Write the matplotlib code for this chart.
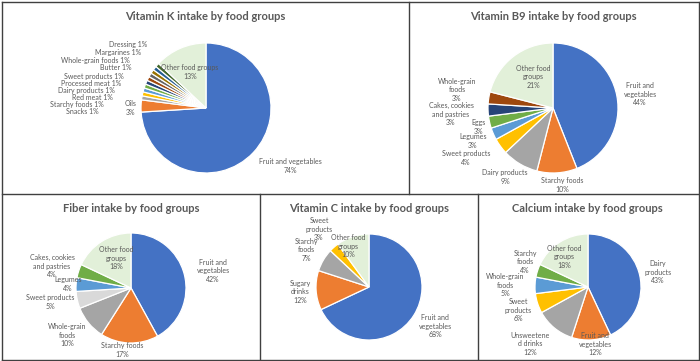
import matplotlib
matplotlib.use("Agg")
import matplotlib.pyplot as plt
from matplotlib.lines import Line2D

# ---- data ----
vitk_names = ["Fruit and vegetables", "Oils", "Snacks", "Starchy foods", "Red meat",
              "Dairy products", "Processed meat", "Sweet products", "Butter",
              "Whole-grain foods", "Margarines", "Dressing", "Other food groups"]
vitk_values = [74, 3, 1, 1, 1, 1, 1, 1, 1, 1, 1, 1, 13]

b9_names = ["Fruit and\nvegetables", "Starchy foods", "Dairy products", "Sweet products",
            "Legumes", "Eggs", "Cakes, cookies\nand pastries", "Whole-grain\nfoods",
            "Other food\ngroups"]
b9_values = [44, 10, 9, 4, 3, 3, 3, 3, 21]

fiber_names = ["Fruit and\nvegetables", "Starchy foods", "Whole-grain\nfoods",
               "Sweet products", "Legumes", "Cakes, cookies\nand pastries",
               "Other food\ngroups"]
fiber_values = [42, 17, 10, 5, 4, 4, 18]

vitc_names = ["Fruit and\nvegetables", "Sugary\ndrinks", "Starchy\nfoods",
              "Sweet\nproducts", "Other food\ngroups"]
vitc_values = [68, 12, 7, 3, 10]

calcium_names = ["Dairy\nproducts", "Fruit and\nvegetables", "Unsweetene\nd drinks",
                 "Sweet\nproducts", "Whole-grain\nfoods", "Starchy\nfoods",
                 "Other food\ngroups"]
calcium_values = [43, 12, 12, 6, 5, 4, 18]

# ---- styles ----
BLUE, ORANGE, GRAY, GOLD = "#4472C4", "#ED7D31", "#A5A5A5", "#FFC000"
LBLUE, GREEN, NAVY, BROWN = "#5B9BD5", "#70AD47", "#264478", "#9E480E"
OTHER = "#E2F0D9"
TXT = "#595959"
LINE = "#404040"

W, H = 700, 361
plt.rcParams["font.family"] = ["Lato", "DejaVu Sans"]

fig = plt.figure(figsize=(W / 100, H / 100), dpi=100)


def fpos(x, y):
    return x / W, 1 - y / H


def draw_pie(names, values, colors, center, radius, title, title_pos, label_pos, seps=None):
    cx, cy = center
    ax = fig.add_axes([(cx - radius) / W, 1 - (cy + radius) / H,
                       2 * radius / W, 2 * radius / H])
    ax.pie(values, colors=colors, startangle=90, counterclock=False, radius=1,
           wedgeprops=dict(edgecolor="white", linewidth=0.9))
    ax.set_xlim(-1, 1)
    ax.set_ylim(-1, 1)
    ax.axis("off")
    fig.text(*fpos(*title_pos), title, ha="center", va="center",
             fontsize=8, fontweight="bold", color=TXT)
    for i, (name, v) in enumerate(zip(names, values)):
        sep = "\n" if seps is None else seps[i]
        fig.text(*fpos(*label_pos[i]), f"{name}{sep}{v}%", ha="center", va="center",
                 fontsize=5, color=TXT, linespacing=1.25)


# Vitamin K
vitk_colors = [BLUE, ORANGE, GRAY, GOLD, LBLUE, GREEN, NAVY, BROWN,
               "#636363", "#997300", "#255E91", "#43682B", OTHER]
vitk_seps = ["\n", "\n"] + [" "] * 10 + ["\n"]
draw_pie(vitk_names, vitk_values, vitk_colors, (206, 108), 65,
         "Vitamin K intake by food groups", (205, 16),
         [(290, 166), (131, 108), (82, 112), (77, 104), (92, 98), (86, 91),
          (91, 83), (94, 76), (116, 68), (95, 61), (118, 53), (128, 45), (190, 72)],
         vitk_seps)

# Vitamin B9
draw_pie(b9_names, b9_values, [BLUE, ORANGE, GRAY, GOLD, LBLUE, GREEN, NAVY, BROWN, OTHER],
         (553, 108), 65, "Vitamin B9 intake by food groups", (553, 16),
         [(640, 94), (562, 185), (505, 177), (466, 158), (473, 141), (479, 127),
          (451, 114), (457, 90), (533, 77)])

# Fiber
draw_pie(fiber_names, fiber_values, [BLUE, ORANGE, GRAY, "#D9D9D9", LBLUE, GREEN, OTHER],
         (131, 288), 55, "Fiber intake by food groups", (131, 208),
         [(213, 271), (122, 350), (67, 335), (50, 302), (68, 284), (52, 266), (116, 258)])

# Vitamin C
draw_pie(vitc_names, vitc_values, [BLUE, ORANGE, GRAY, GOLD, OTHER],
         (369, 287), 53, "Vitamin C intake by food groups", (369, 208),
         [(435, 326), (300, 292), (306, 250), (319, 229), (348, 246)])

# Calcium
draw_pie(calcium_names, calcium_values, [BLUE, ORANGE, GRAY, GOLD, LBLUE, GREEN, OTHER],
         (588, 287), 53, "Calcium intake by food groups", (587, 208),
         [(658, 272), (595, 344), (530, 344), (518, 310), (505, 285), (525, 262), (564, 257)])

# panel borders
borders = [((1.5, 698.5), (1.5, 1.5)), ((1.5, 698.5), (359.5, 359.5)),
           ((1.5, 1.5), (1.5, 359.5)), ((698.5, 698.5), (1.5, 359.5)),
           ((1.5, 698.5), (194, 194)), ((409, 409), (1.5, 194)),
           ((260, 260), (194, 359.5)), ((478, 478), (194, 359.5))]
for xs, ys in borders:
    fig.add_artist(Line2D([x / W for x in xs], [1 - y / H for y in ys],
                          color=LINE, linewidth=1.0))

fig.savefig("out.png", dpi=100)
